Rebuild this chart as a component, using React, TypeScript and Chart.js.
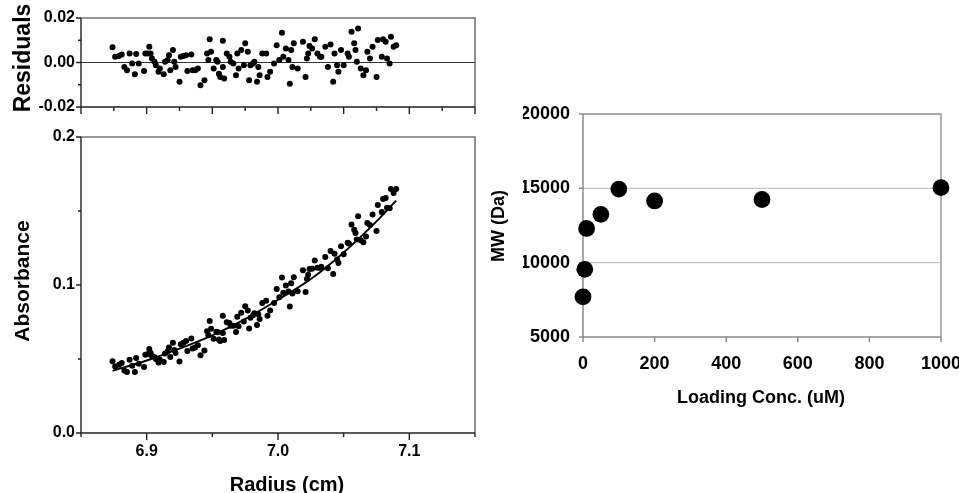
import React, { useEffect, useRef } from "react";
import { Chart, registerables } from "chart.js";

Chart.register(...registerables);

// ---------- data ----------
const RADIUS = [
  6.874, 6.876, 6.879, 6.881, 6.883, 6.885, 6.887, 6.889, 6.891, 6.892,
  6.894, 6.898, 6.899, 6.901, 6.902, 6.903, 6.904, 6.906, 6.907, 6.909,
  6.91, 6.913, 6.914, 6.916, 6.917, 6.918, 6.92, 6.921, 6.922, 6.925,
  6.926, 6.928, 6.93, 6.931, 6.934, 6.935, 6.937, 6.939, 6.941, 6.944,
  6.946, 6.947, 6.948, 6.949, 6.951, 6.953, 6.954, 6.955, 6.956, 6.958,
  6.958, 6.959, 6.961, 6.963, 6.964, 6.966, 6.968, 6.969, 6.97, 6.972,
  6.974, 6.975, 6.977, 6.978, 6.979, 6.981, 6.982, 6.984, 6.985, 6.986,
  6.988, 6.991, 6.992, 6.994, 6.997, 6.999, 7.001, 7.003, 7.004, 7.006,
  7.008, 7.009, 7.01, 7.011, 7.012, 7.015, 7.019, 7.021, 7.022, 7.023,
  7.024, 7.026, 7.028, 7.03, 7.032, 7.033, 7.036, 7.038, 7.04, 7.042,
  7.043, 7.045, 7.046, 7.048, 7.05, 7.053, 7.054, 7.056, 7.058, 7.059,
  7.06, 7.061, 7.063, 7.065, 7.067, 7.068, 7.07, 7.072, 7.075, 7.076,
  7.079, 7.08, 7.082, 7.083, 7.085, 7.086, 7.088, 7.09,
];

const RESIDUALS = [
  0.0068, 0.0026, 0.0029, 0.0036, -0.002, -0.0035, 0.0041, -0.0005, -0.0053, 0.0038,
  -0.0005, -0.0038, 0.0041, 0.0041, 0.0071, 0.0041, 0.0018, 0.0003, -0.0012, -0.0042,
  -0.0027, -0.0053, 0.0003, 0.0011, 0.0033, -0.0035, 0.0056, 0.0003, -0.002, -0.0087,
  0.0026, 0.0029, 0.0033, -0.0038, 0.0036, -0.0035, -0.0035, -0.0027, -0.0102, -0.008,
  0.0041, 0.0011, 0.0104, 0.0048, -0.0027, 0.0011, 0.0003, -0.005, -0.0065, 0.0098,
  -0.002, -0.0072, 0.0041, 0.0026, 0.0003, -0.0005, -0.0057, 0.0041, -0.0027, 0.0056,
  -0.0012, 0.0086, 0.0048, -0.008, -0.0012, -0.0005, 0.0003, -0.0087, -0.002, -0.0057,
  0.0041, 0.0041, -0.0065, -0.0042, -0.0005, 0.0078, 0.0011, 0.0134, 0.0026, 0.0063,
  0.0011, -0.0095, 0.0056, -0.002, 0.0086, -0.0027, 0.0093, -0.0065, 0.0018, 0.0041,
  0.0074, 0.0063, 0.0104, 0.0041, 0.0026, 0.0026, 0.0071, -0.002, 0.0081, -0.0087,
  0.0041, -0.0012, -0.0042, 0.0056, -0.0012, 0.0041, 0.0026, 0.0138, 0.0086, 0.0056,
  0.0003, 0.0153, -0.0027, -0.0057, -0.0035, 0.0048, 0.0018, 0.0071, -0.0065, 0.0101,
  0.0026, 0.0104, 0.0093, 0.0018, -0.0005, 0.0116, 0.0071, 0.0078,
];

const ABSORBANCE = [
  0.0485, 0.0449, 0.0461, 0.0473, 0.0422, 0.0413, 0.0495, 0.0454, 0.0412, 0.0506,
  0.0468, 0.0446, 0.0528, 0.0534, 0.0567, 0.0541, 0.0521, 0.0512, 0.05, 0.0477,
  0.0495, 0.0479, 0.0538, 0.0552, 0.0577, 0.0513, 0.061, 0.056, 0.054, 0.0483,
  0.06, 0.061, 0.0621, 0.0554, 0.0638, 0.0571, 0.0578, 0.0593, 0.0526, 0.0558,
  0.0687, 0.066, 0.0757, 0.0704, 0.0637, 0.0684, 0.0681, 0.0632, 0.0621, 0.0793,
  0.0675, 0.0628, 0.0749, 0.0743, 0.0725, 0.0725, 0.0682, 0.0785, 0.0721, 0.0813,
  0.0754, 0.0856, 0.0828, 0.0706, 0.0779, 0.0796, 0.0809, 0.073, 0.0802, 0.077,
  0.0879, 0.0894, 0.0793, 0.0827, 0.0879, 0.0973, 0.0917, 0.1051, 0.0948, 0.0997,
  0.0956, 0.0855, 0.1012, 0.0942, 0.1053, 0.0957, 0.1099, 0.0953, 0.1041, 0.107,
  0.1108, 0.111, 0.1166, 0.1117, 0.1116, 0.1124, 0.119, 0.1114, 0.1229, 0.1075,
  0.1211, 0.1172, 0.1149, 0.1262, 0.1208, 0.1286, 0.128, 0.1408, 0.1373, 0.1352,
  0.1307, 0.1465, 0.1302, 0.1289, 0.1328, 0.1419, 0.1406, 0.1476, 0.1365, 0.154,
  0.1493, 0.1581, 0.1588, 0.1522, 0.1518, 0.1648, 0.1622, 0.1648,
];

const FIT_RADIUS = [6.874, 6.9, 6.925, 6.95, 6.975, 7.0, 7.025, 7.05, 7.075, 7.09];
const FIT_ABSORBANCE = [0.042, 0.049, 0.057, 0.066, 0.077, 0.09, 0.104, 0.122, 0.143, 0.157];

const CONC = [0, 5, 10, 50, 100, 200, 500, 1000];
const MW = [7700, 9550, 12300, 13250, 14950, 14150, 14250, 15050];

// ticks
const RES_Y_MAJOR = [-0.02, 0, 0.02];
const RES_Y_MINOR = [-0.01, 0.01];
const RES_X_MAJOR = [6.85, 6.9, 6.95, 7.0, 7.05, 7.1, 7.15];
const RES_X_MINOR = [6.875, 6.925, 6.975, 7.025, 7.075, 7.125];
const ABS_X_MAJOR = [6.9, 7.0, 7.1];
const ABS_X_MINOR = [6.85, 6.95, 7.05, 7.15];
const ABS_Y_MAJOR = [0, 0.1, 0.2];
const ABS_Y_MINOR = [0.05, 0.15];
const CONC_TICKS = [0, 200, 400, 600, 800, 1000];
const MW_TICKS = [5000, 10000, 15000, 20000];
const MW_GRID = [10000, 15000, 20000];

// ---------- styling / layout ----------
const FONT = "'Liberation Sans', Arial, Helvetica, sans-serif";
const CW = 1000;
const CH = 493;
const AXIS_W = 60;
const AXIS_H = 40;

type TickSet = { values: number[]; len: number };
type Title = { text: string; x: number; y: number; size: number; rotate?: boolean };
type FrameCfg = {
  axisColor: string;
  axisWidth: number;
  borderColor: string;
  borderWidth: number;
  xTicks: TickSet[];
  yTicks: TickSet[];
  tickColor: string;
  hLines?: { values: number[]; color: string; width: number }[];
  titles: Title[];
};

function framePlugin(cfg: FrameCfg) {
  return {
    id: "frame",
    beforeDatasetsDraw(chart: any) {
      const { ctx, chartArea: a, scales } = chart;
      const xs = scales.x;
      const ys = scales.y;
      ctx.save();
      for (const h of cfg.hLines || []) {
        ctx.strokeStyle = h.color;
        ctx.lineWidth = h.width;
        for (const v of h.values) {
          const py = ys.getPixelForValue(v);
          ctx.beginPath();
          ctx.moveTo(a.left, py);
          ctx.lineTo(a.right, py);
          ctx.stroke();
        }
      }
      ctx.strokeStyle = cfg.borderColor;
      ctx.lineWidth = cfg.borderWidth;
      ctx.beginPath();
      ctx.moveTo(a.left, a.top);
      ctx.lineTo(a.right, a.top);
      ctx.lineTo(a.right, a.bottom);
      ctx.stroke();

      ctx.strokeStyle = cfg.tickColor;
      ctx.lineWidth = cfg.axisWidth;
      ctx.beginPath();
      for (const t of cfg.xTicks) {
        for (const v of t.values) {
          const px = xs.getPixelForValue(v);
          ctx.moveTo(px, a.bottom);
          ctx.lineTo(px, a.bottom + t.len);
        }
      }
      for (const t of cfg.yTicks) {
        for (const v of t.values) {
          const py = ys.getPixelForValue(v);
          ctx.moveTo(a.left, py);
          ctx.lineTo(a.left - t.len, py);
        }
      }
      ctx.stroke();

      ctx.strokeStyle = cfg.axisColor;
      ctx.lineWidth = cfg.axisWidth;
      ctx.beginPath();
      ctx.moveTo(a.left, a.top);
      ctx.lineTo(a.left, a.bottom);
      ctx.lineTo(a.right, a.bottom);
      ctx.stroke();
      ctx.restore();
    },
    afterDraw(chart: any) {
      const { ctx } = chart;
      ctx.save();
      ctx.fillStyle = "#000";
      for (const t of cfg.titles) {
        ctx.font = `bold ${t.size}px ${FONT}`;
        ctx.textAlign = "center";
        ctx.textBaseline = "alphabetic";
        ctx.save();
        ctx.translate(t.x, t.y);
        if (t.rotate) ctx.rotate(-Math.PI / 2);
        ctx.fillText(t.text, 0, 0);
        ctx.restore();
      }
      ctx.restore();
    },
  };
}

type Area = { left: number; top: number; right: number; bottom: number };

function padFor(area: Area) {
  return {
    left: area.left - AXIS_W,
    top: area.top,
    right: CW - area.right,
    bottom: CH - area.bottom - AXIS_H,
  };
}

function linearAxis(opts: {
  min: number;
  max: number;
  labels: number[];
  fmt: (v: number) => string;
  size: number;
  padding: number;
  display: boolean;
  horizontal: boolean;
}) {
  return {
    type: "linear",
    min: opts.min,
    max: opts.max,
    grid: { display: false, drawTicks: false },
    border: { display: false },
    afterBuildTicks(scale: any) {
      scale.ticks = opts.labels.map((v) => ({ value: v }));
    },
    afterFit(scale: any) {
      if (opts.horizontal) scale.height = AXIS_H;
      else scale.width = AXIS_W;
    },
    ticks: {
      display: opts.display,
      autoSkip: false,
      maxRotation: 0,
      minRotation: 0,
      padding: opts.padding,
      color: "#000",
      font: { family: FONT, size: opts.size, weight: "bold" },
      callback: (v: any) => opts.fmt(Number(v)),
    },
  };
}

function makeResiduals(canvas: HTMLCanvasElement) {
  const area = { left: 81, top: 18, right: 475, bottom: 107 };
  return new Chart(canvas, {
    type: "scatter",
    data: {
      datasets: [
        {
          data: RADIUS.map((r, i) => ({ x: r, y: RESIDUALS[i] })),
          backgroundColor: "#000",
          borderColor: "#000",
          pointRadius: 3.0,
          pointBorderWidth: 0,
          clip: false,
        },
      ],
    },
    options: {
      responsive: false,
      animation: false,
      devicePixelRatio: 1,
      layout: { padding: padFor(area) },
      plugins: { legend: { display: false }, tooltip: { enabled: false } },
      events: [],
      scales: {
        x: linearAxis({ min: 6.85, max: 7.15, labels: RES_X_MAJOR, fmt: (v) => v.toFixed(2), size: 16, padding: 9, display: false, horizontal: true }),
        y: linearAxis({ min: -0.02, max: 0.02, labels: RES_Y_MAJOR, fmt: (v) => v.toFixed(2), size: 16, padding: 6, display: true, horizontal: false }),
      },
    } as any,
    plugins: [
      framePlugin({
        axisColor: "#222",
        axisWidth: 1.4,
        borderColor: "#777",
        borderWidth: 1.6,
        tickColor: "#222",
        xTicks: [
          { values: RES_X_MAJOR, len: 7 },
          { values: RES_X_MINOR, len: 4 },
        ],
        yTicks: [
          { values: RES_Y_MAJOR, len: 5 },
          { values: RES_Y_MINOR, len: 3 },
        ],
        hLines: [{ values: [0], color: "#333", width: 1.2 }],
        titles: [{ text: "Residuals", x: 30, y: 58, size: 23, rotate: true }],
      }) as any,
    ],
  });
}

function makeAbsorbance(canvas: HTMLCanvasElement) {
  const area = { left: 81, top: 137, right: 475, bottom: 433 };
  return new Chart(canvas, {
    type: "scatter",
    data: {
      datasets: [
        {
          data: FIT_RADIUS.map((r, i) => ({ x: r, y: FIT_ABSORBANCE[i] })),
          showLine: true,
          borderColor: "#000",
          borderWidth: 1.9,
          pointRadius: 0,
          cubicInterpolationMode: "monotone",
          order: 1,
        },
        {
          data: RADIUS.map((r, i) => ({ x: r, y: ABSORBANCE[i] })),
          backgroundColor: "#000",
          borderColor: "#000",
          pointRadius: 3.0,
          pointBorderWidth: 0,
          clip: false,
          order: 0,
        },
      ],
    },
    options: {
      responsive: false,
      animation: false,
      devicePixelRatio: 1,
      layout: { padding: padFor(area) },
      plugins: { legend: { display: false }, tooltip: { enabled: false } },
      events: [],
      scales: {
        x: linearAxis({ min: 6.85, max: 7.15, labels: ABS_X_MAJOR, fmt: (v) => v.toFixed(1), size: 16, padding: 9, display: true, horizontal: true }),
        y: linearAxis({ min: 0, max: 0.2, labels: ABS_Y_MAJOR, fmt: (v) => v.toFixed(1), size: 16, padding: 6, display: true, horizontal: false }),
      },
    } as any,
    plugins: [
      framePlugin({
        axisColor: "#222",
        axisWidth: 1.4,
        borderColor: "#777",
        borderWidth: 1.6,
        tickColor: "#222",
        xTicks: [
          { values: ABS_X_MAJOR, len: 7 },
          { values: ABS_X_MINOR, len: 4 },
        ],
        yTicks: [
          { values: ABS_Y_MAJOR, len: 5 },
          { values: ABS_Y_MINOR, len: 3 },
        ],
        titles: [
          { text: "Absorbance", x: 28.5, y: 281, size: 21, rotate: true },
          { text: "Radius (cm)", x: 287, y: 491, size: 20 },
        ],
      }) as any,
    ],
  });
}

function makeMW(canvas: HTMLCanvasElement) {
  const area = { left: 583, top: 114, right: 941, bottom: 337 };
  return new Chart(canvas, {
    type: "scatter",
    data: {
      datasets: [
        {
          data: CONC.map((c, i) => ({ x: c, y: MW[i] })),
          backgroundColor: "#000",
          borderColor: "#000",
          pointRadius: 8.4,
          pointBorderWidth: 0,
          clip: false,
        },
      ],
    },
    options: {
      responsive: false,
      animation: false,
      devicePixelRatio: 1,
      layout: { padding: padFor(area) },
      plugins: { legend: { display: false }, tooltip: { enabled: false } },
      events: [],
      scales: {
        x: linearAxis({ min: 0, max: 1000, labels: CONC_TICKS, fmt: (v) => String(v), size: 18, padding: 16, display: true, horizontal: true }),
        y: linearAxis({ min: 5000, max: 20000, labels: MW_TICKS, fmt: (v) => String(v), size: 18, padding: 13, display: true, horizontal: false }),
      },
    } as any,
    plugins: [
      framePlugin({
        axisColor: "#8a8a8a",
        axisWidth: 1.5,
        borderColor: "#9a9a9a",
        borderWidth: 1.5,
        tickColor: "#8a8a8a",
        xTicks: [{ values: CONC_TICKS, len: 5 }],
        yTicks: [{ values: MW_TICKS, len: 4 }],
        hLines: [{ values: MW_GRID, color: "#c4c4c4", width: 1.2 }],
        titles: [
          { text: "MW (Da)", x: 504, y: 226, size: 18, rotate: true },
          { text: "Loading Conc. (uM)", x: 761, y: 403, size: 18 },
        ],
      }) as any,
    ],
  });
}

export default function App() {
  const r1 = useRef<HTMLCanvasElement>(null);
  const r2 = useRef<HTMLCanvasElement>(null);
  const r3 = useRef<HTMLCanvasElement>(null);

  useEffect(() => {
    const charts: Chart[] = [];
    if (r1.current) charts.push(makeResiduals(r1.current));
    if (r2.current) charts.push(makeAbsorbance(r2.current));
    if (r3.current) charts.push(makeMW(r3.current));
    return () => charts.forEach((c) => c.destroy());
  }, []);

  const cs: React.CSSProperties = { position: "absolute", left: 0, top: 0, width: CW, height: CH };
  return (
    <div style={{ position: "absolute", left: 0, top: 0, width: 959, height: 493, overflow: "hidden", background: "#fff" }}>
      <canvas ref={r1} width={CW} height={CH} style={cs} />
      <canvas ref={r2} width={CW} height={CH} style={cs} />
      <canvas ref={r3} width={CW} height={CH} style={cs} />
    </div>
  );
}
